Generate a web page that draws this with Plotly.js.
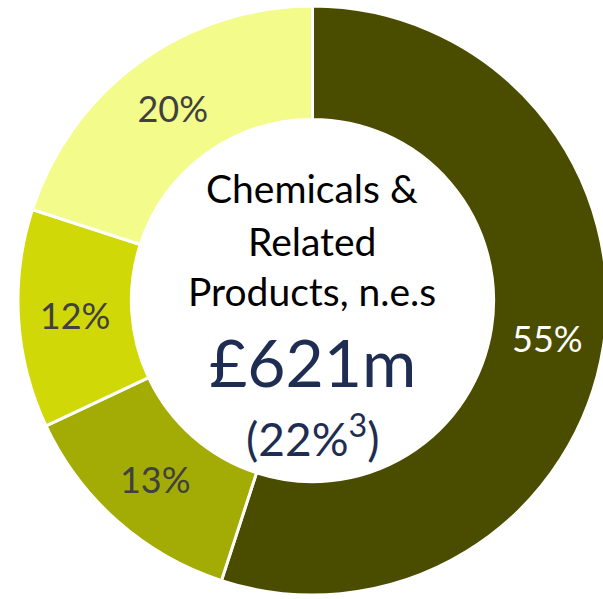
<!DOCTYPE html>
<html>
<head>
<meta charset="utf-8">
<script src="https://cdn.plot.ly/plotly-3.0.1.min.js"></script>
<style>html,body{margin:0;padding:0;background:#fff;overflow:hidden}</style>
</head>
<body>
<div id="chart" style="width:607px;height:599px"></div>
<script>
var categories = ["Segment A", "Segment B", "Segment C", "Segment D"];
var shares = [55, 13, 12, 20];
var sliceColors = ["#4a4c00", "#a3ab05", "#d0d808", "#f3fb8a"];
var labelColors = ["#ffffff", "#404040", "#404040", "#404040"];
var centerLines = ["Chemicals &", "Related", "Products, n.e.s"];
var centerValue = "£621m";
var centerShare = "(22%<sup>3</sup>)";

var FONT = "Lato, 'Open Sans', sans-serif";
var W = 607, H = 599;
var cx = 312 / W;
var lineY = [188, 241, 291];

var annotations = centerLines.map(function (t, i) {
  return {text: t, x: cx, y: 1 - lineY[i] / H, xref: "paper", yref: "paper",
          xanchor: "center", yanchor: "middle", showarrow: false,
          font: {family: FONT, size: 39, color: "#000000"}};
});
annotations.push({text: centerValue, x: cx, y: 1 - 361 / H, xref: "paper", yref: "paper",
  xanchor: "center", yanchor: "middle", showarrow: false,
  font: {family: FONT, size: 66, color: "#1f2d52"}});
annotations.push({text: centerShare, x: cx, y: 1 - 435 / H, xref: "paper", yref: "paper",
  xanchor: "center", yanchor: "middle", showarrow: false,
  font: {family: FONT, size: 46, color: "#1f2d52"}});

var trace = {
  type: "pie",
  labels: categories,
  values: shares,
  hole: 0.615,
  sort: false,
  direction: "clockwise",
  rotation: 0,
  marker: {colors: sliceColors, line: {color: "#ffffff", width: 3}},
  texttemplate: "%{value}%",
  textposition: "inside",
  insidetextorientation: "horizontal",
  textfont: {family: FONT, size: 36, color: labelColors},
  hoverinfo: "none",
  domain: {x: [18 / W, 1], y: [4 / H, 593 / H]}
};

var layout = {
  width: W, height: H,
  margin: {l: 0, r: 0, t: 0, b: 0},
  paper_bgcolor: "#ffffff",
  showlegend: false,
  annotations: annotations
};

Plotly.newPlot("chart", [trace], layout, {displayModeBar: false, staticPlot: true});
</script>
</body>
</html>
